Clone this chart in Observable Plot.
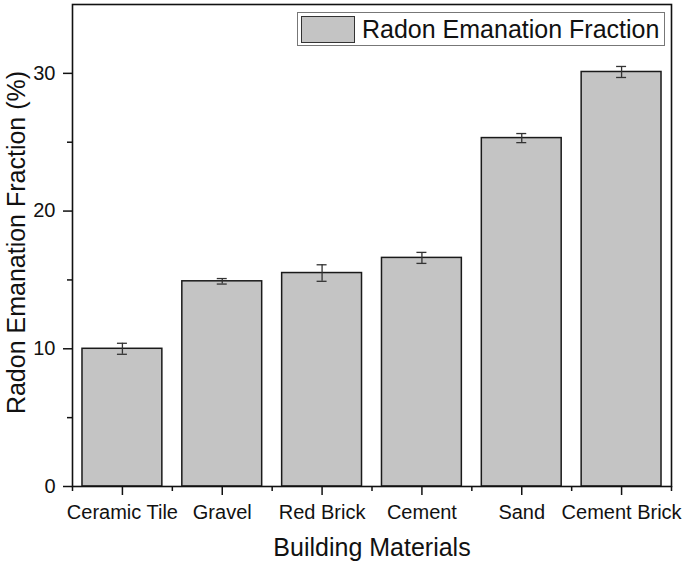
<!DOCTYPE html>
<html><head><meta charset="utf-8">
<script src="https://cdn.jsdelivr.net/npm/d3@7"></script>
<script src="https://cdn.jsdelivr.net/npm/@observablehq/plot@0.6"></script>
<style>
body{margin:0;background:#fff;}
#wrap{position:relative;width:685px;height:565px;font-family:"Liberation Sans",Arial,sans-serif;}
#legend{position:absolute;left:297px;top:12px;width:366px;height:32px;border:1px solid #777;background:#fff;display:flex;align-items:center;box-sizing:content-box;}
#legend .sw{width:52px;height:25px;border:1.5px solid #333;background:#c4c4c4;margin-left:3px;}
#legend .lb{margin-left:7px;font-size:25px;color:#111;white-space:nowrap;}
</style></head>
<body>
<div id="wrap"></div>
<script>
const materials = ["Ceramic Tile", "Gravel", "Red Brick", "Cement", "Sand", "Cement Brick"];
const values = [10.0, 14.9, 15.5, 16.6, 25.3, 30.1];
const errors = [0.4, 0.2, 0.6, 0.4, 0.33, 0.4];
const majorY = [0, 10, 20, 30];
const minorY = [5, 15, 25];
const seriesName = "Radon Emanation Fraction";
const xTitle = "Building Materials";
const yTitle = "Radon Emanation Fraction (%)";

const data = materials.map((m, i) => ({i, m, v: values[i], e: errors[i]}));
const idx = materials.map((_, i) => i);
const minorX = d3.range(materials.length + 1).map(i => i - 0.5);

const chart = Plot.plot({
  width: 685, height: 565,
  marginLeft: 72, marginRight: 14, marginTop: 4, marginBottom: 79,
  style: {fontFamily: '"Liberation Sans", Arial, sans-serif', fontSize: "20px", color: "#111", background: "#fff"},
  x: {type: "linear", domain: [-0.5, materials.length - 0.5]},
  y: {domain: [0, 35]},
  marks: [
    Plot.rectY(data, {x1: d => d.i - 0.4, x2: d => d.i + 0.4, y1: 0, y2: "v", fill: "#c4c4c4", stroke: "#1a1a1a", strokeWidth: 1.5}),
    Plot.ruleX(data, {x: "i", y1: d => d.v - d.e, y2: d => d.v + d.e, stroke: "#333", strokeWidth: 1.3}),
    Plot.ruleY(data, {y: d => d.v + d.e, x1: d => d.i - 0.05, x2: d => d.i + 0.05, stroke: "#333", strokeWidth: 1.3}),
    Plot.ruleY(data, {y: d => d.v - d.e, x1: d => d.i - 0.05, x2: d => d.i + 0.05, stroke: "#333", strokeWidth: 1.3}),
    Plot.frame({stroke: "#111", strokeWidth: 1.6}),
    Plot.axisY(majorY, {tickSize: 9, tickPadding: 8, fontSize: 20, label: null, strokeWidth: 1.5}),
    Plot.axisY(minorY, {tickSize: 5, tickFormat: () => "", label: null, strokeWidth: 1.5}),
    Plot.axisX(idx, {tickSize: 9, tickPadding: 9, tickFormat: i => materials[i], label: null, fontSize: 20, strokeWidth: 1.5}),
    Plot.axisX(minorX, {tickSize: 5, tickFormat: () => "", label: null, strokeWidth: 1.5}),
    Plot.text([xTitle], {text: d => d, frameAnchor: "bottom", dy: 69, fontSize: 25}),
    Plot.text([yTitle], {text: d => d, frameAnchor: "left", textAnchor: "middle", rotate: -90, dx: -56, dy: -3, fontSize: 25})
  ]
});
const wrap = document.getElementById("wrap");
wrap.appendChild(chart);
const lg = document.createElement("div");
lg.id = "legend";
lg.innerHTML = `<div class="sw"></div><div class="lb"></div>`;
lg.querySelector(".lb").textContent = seriesName;
wrap.appendChild(lg);
</script>
</body></html>
